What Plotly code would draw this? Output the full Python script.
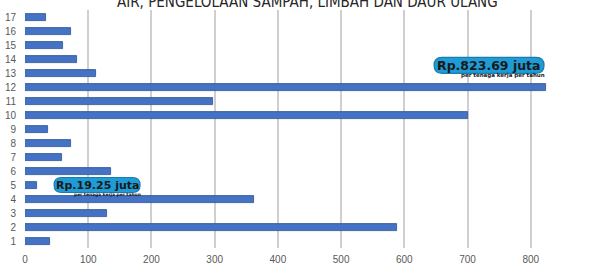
import plotly.graph_objects as go

categories = list(range(1, 18))
values = [39, 589, 129, 362, 19.25, 136, 59, 73, 37, 700, 297, 823.69, 112, 83, 60, 73, 33]
x_ticks = [0, 100, 200, 300, 400, 500, 600, 700, 800, 900]
title_text = "AIR, PENGELOLAAN SAMPAH, LIMBAH DAN DAUR ULANG"
callouts = [
    # (value label, sub label, x value, y value, box w px, box h px, font size, sub font size)
    ("Rp.823.69 juta", "per tenaga kerja per tahun", 734, 13.55, 110, 16, 12.5, 5.5),
    ("Rp.19.25 juta", "per tenaga kerja per tahun", 114, 5.0, 86, 15, 11, 4.4),
]

W, H = 599, 266
ML, MR, MT, MB = 25, 5, 10, 18
XMAX = 900
YMIN, YMAX = 0.5, 17.5
pxx = (W - ML - MR) / XMAX
pxy = (H - MT - MB) / (YMAX - YMIN)

fig = go.Figure()
fig.add_trace(go.Bar(
    x=values, y=categories, orientation="h", width=0.5,
    marker=dict(color="#4472C4", line=dict(color="#2F528F", width=0.8)),
    hoverinfo="x+y",
))


def pill(cx, cy, wpx, hpx):
    hw = wpx / 2 / pxx
    hh = hpx / 2 / pxy
    rx = (hpx / 2) / pxx
    x0, x1 = cx - hw, cx + hw
    y0, y1 = cy - hh, cy + hh
    return (f"M {x0 + rx},{y0} L {x1 - rx},{y0} Q {x1},{y0} {x1},{cy} "
            f"Q {x1},{y1} {x1 - rx},{y1} L {x0 + rx},{y1} Q {x0},{y1} {x0},{cy} "
            f"Q {x0},{y0} {x0 + rx},{y0} Z")


shapes = []
annotations = []
for main, sub, cx, cy, wpx, hpx, fs, sfs in callouts:
    shapes.append(dict(type="path", xref="x", yref="y", path=pill(cx, cy, wpx, hpx),
                       fillcolor="#1F9BD5", line=dict(color="#177DB0", width=1.2), layer="above"))
    annotations.append(dict(x=cx, y=cy, xref="x", yref="y", text=f"<b>{main}</b>", showarrow=False,
                            font=dict(family="DejaVu Sans", size=fs, color="#1a1a1a")))
    annotations.append(dict(x=cx + wpx / 2 / pxx, y=cy - (hpx / 2 + 2) / pxy, xref="x", yref="y",
                            text=f"<b>{sub}</b>", showarrow=False, xanchor="right", xshift=3,
                            font=dict(family="DejaVu Sans", size=sfs, color="#1a1a1a")))

annotations.append(dict(x=0.496, y=1, xref="paper", yref="paper", text=title_text, showarrow=False,
                        yanchor="bottom", yshift=-3,
                        font=dict(family="DejaVu Sans Condensed, Roboto Condensed, Arial Narrow, sans-serif",
                                  size=15, color="#262626")))

fig.update_layout(
    width=W, height=H, margin=dict(l=ML, r=MR, t=MT, b=MB, autoexpand=False),
    paper_bgcolor="white", plot_bgcolor="white", showlegend=False,
    shapes=shapes, annotations=annotations, bargap=0,
    xaxis=dict(range=[0, XMAX], tickvals=x_ticks, ticktext=[str(t) for t in x_ticks],
               showgrid=True, gridcolor="#cfcfcf", gridwidth=1.5, zeroline=False, automargin=False,
               ticks="outside", ticklen=2, tickcolor="rgba(0,0,0,0)",
               tickfont=dict(family="Liberation Sans", size=10, color="#595959")),
    yaxis=dict(range=[YMIN, YMAX], tickvals=categories, ticktext=[str(c) for c in categories],
               showgrid=False, zeroline=False, automargin=False,
               ticks="outside", ticklen=6, tickcolor="rgba(0,0,0,0)",
               tickfont=dict(family="Liberation Sans", size=10, color="#595959")),
)

fig.write_html("out.html", config={"displayModeBar": False},
               post_script="document.body.style.margin='0';document.body.style.overflow='hidden';")
